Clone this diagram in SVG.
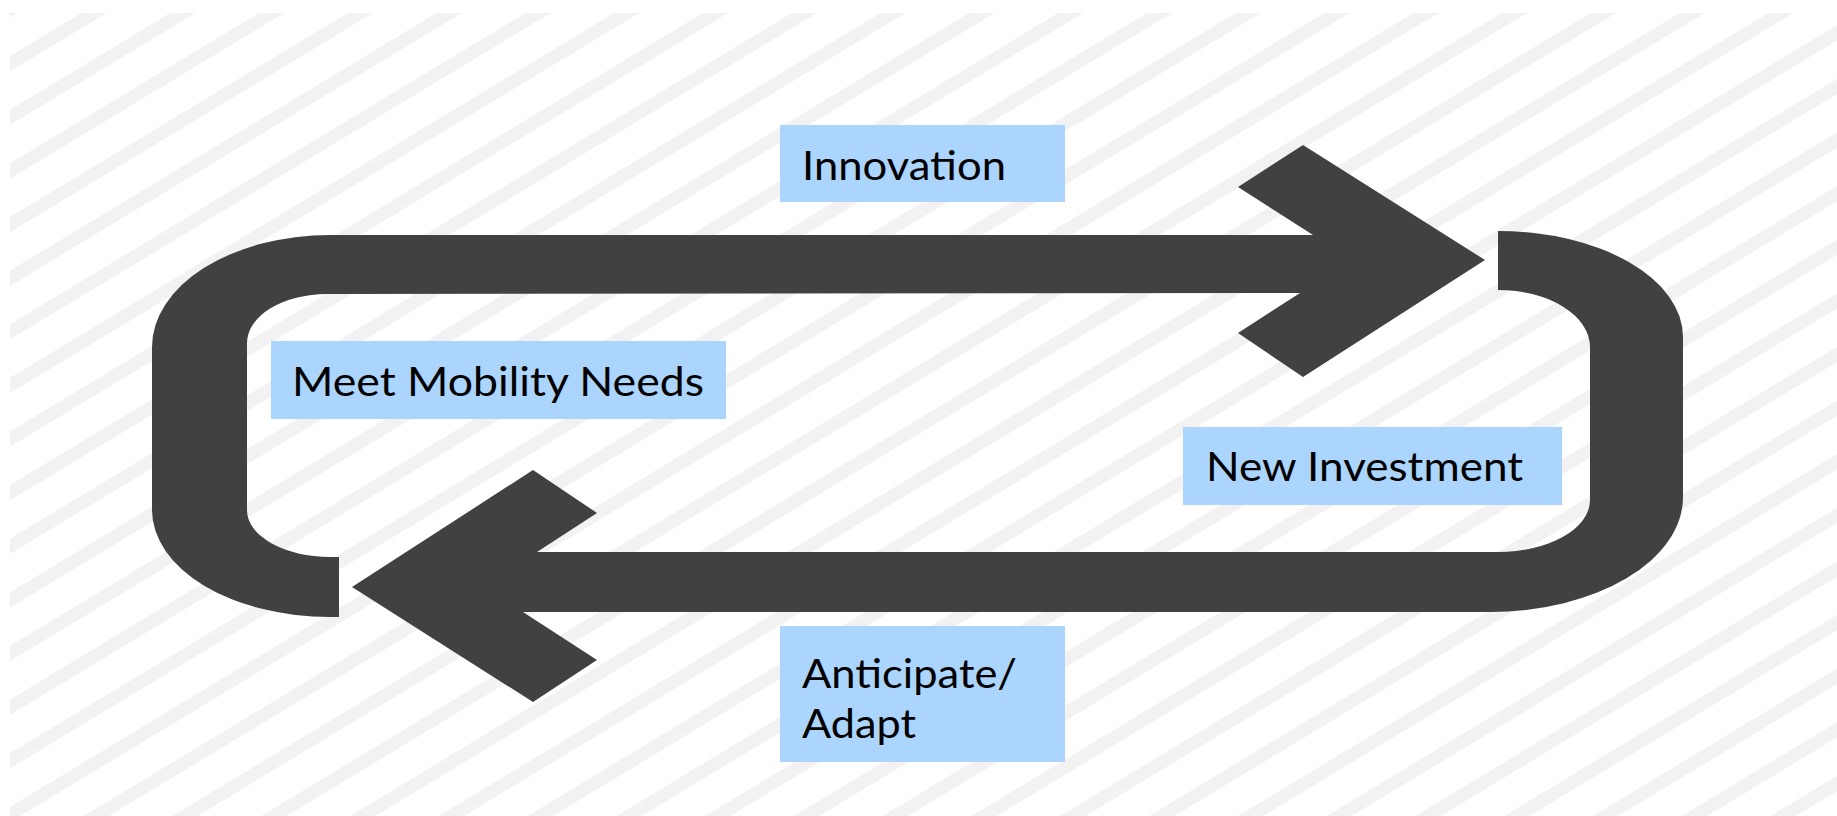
<svg xmlns="http://www.w3.org/2000/svg" width="1837" height="816" viewBox="0 0 1837 816">
  <style>
    .box { fill: #abd5fd; }
    .lbl { font-family: Lato, "Open Sans", "Liberation Sans", sans-serif; font-size: 41px; fill: #000000; }
    .arrow { fill: #414141; }
  </style>
  <defs>
    <pattern id="stripes" patternUnits="userSpaceOnUse" width="200" height="45.9" patternTransform="translate(10,600) rotate(-31.13) translate(0,-6.5)">
      <rect x="0" y="0" width="200" height="13" fill="#f2f2f2"/>
    </pattern>
  </defs>
  <rect x="0" y="0" width="1837" height="816" fill="#ffffff"/>
  <rect id="background" x="10" y="13" width="1827" height="803" fill="url(#stripes)"/>

  <g id="connectors">
    <path id="arrow-top" class="arrow" d="M 339 617 L 339 557 L 330 557 A 83 47 0 0 1 247 510 L 247 343 A 80 49 0 0 1 327 294 L 1300 293 L 1238 333 L 1303 377 L 1485 260 L 1303 145 L 1238 187 L 1313 235 L 330 235 A 178 112 0 0 0 152 347 L 152 510 A 178 107 0 0 0 330 617 Z"/>
    <path id="arrow-bottom" class="arrow" d="M 1498 231 A 185 106 0 0 1 1683 337 L 1683 497 A 193 115 0 0 1 1490 612 L 523 612 L 597 660 L 533 702 L 352 587 L 533 470 L 597 513 L 537 552 L 1498 552 A 92 52 0 0 0 1590 500 L 1590 347 A 92 57 0 0 0 1498 290 Z"/>
  </g>

  <g id="node-innovation">
    <rect class="box" x="780" y="125" width="285" height="77"/>
    <text class="lbl" x="802" y="180" textLength="204" lengthAdjust="spacingAndGlyphs">Innovation</text>
  </g>
  <g id="node-meet-mobility-needs">
    <rect class="box" x="271" y="341" width="455" height="78"/>
    <text class="lbl" x="292" y="396" textLength="412" lengthAdjust="spacingAndGlyphs">Meet Mobility Needs</text>
  </g>
  <g id="node-new-investment">
    <rect class="box" x="1183" y="427" width="379" height="78"/>
    <text class="lbl" x="1206" y="481" textLength="317" lengthAdjust="spacingAndGlyphs">New Investment</text>
  </g>
  <g id="node-anticipate-adapt">
    <rect class="box" x="780" y="626" width="285" height="136"/>
    <text class="lbl" x="802" y="688" textLength="215" lengthAdjust="spacingAndGlyphs">Anticipate/</text>
    <text class="lbl" x="802" y="738" textLength="114" lengthAdjust="spacingAndGlyphs">Adapt</text>
  </g>
</svg>
